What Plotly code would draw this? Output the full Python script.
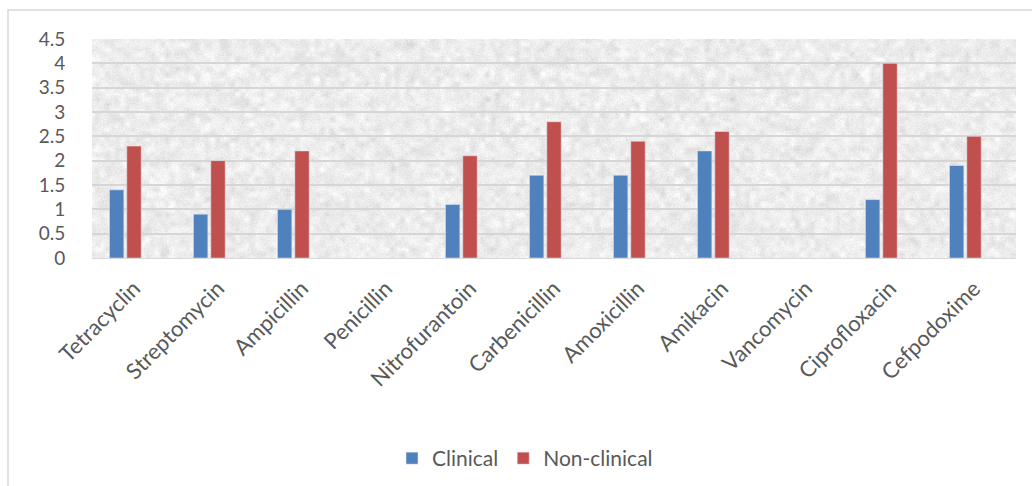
import base64
import struct
import zlib

import numpy as np
import plotly.graph_objects as go

# Chart values
antibiotics = ["Tetracyclin", "Streptomycin", "Ampicillin", "Penicillin", "Nitrofurantoin",
               "Carbenicillin", "Amoxicillin", "Amikacin", "Vancomycin", "Ciprofloxacin",
               "Cefpodoxime"]
clinical = [1.4, 0.9, 1.0, 0, 1.1, 1.7, 1.7, 2.2, 0, 1.2, 1.9]
non_clinical = [2.3, 2.0, 2.2, 0, 2.1, 2.8, 2.4, 2.6, 0, 4.0, 2.5]
y_ticks = [0, 0.5, 1, 1.5, 2, 2.5, 3, 3.5, 4, 4.5]

W, H = 1032, 486
L, R, T, B = 92, 16, 39, 228
PW, PH = W - L - R, H - T - B


def png_data_uri(gray):
    h, w = gray.shape
    raw = b"".join(b"\x00" + gray[r].tobytes() for r in range(h))

    def chunk(tag, data):
        c = struct.pack(">I", len(data)) + tag + data
        return c + struct.pack(">I", zlib.crc32(tag + data) & 0xFFFFFFFF)

    png = (b"\x89PNG\r\n\x1a\n"
           + chunk(b"IHDR", struct.pack(">IIBBBBB", w, h, 8, 0, 0, 0, 0))
           + chunk(b"IDAT", zlib.compress(raw, 9))
           + chunk(b"IEND", b""))
    return "data:image/png;base64," + base64.b64encode(png).decode()


def paper_texture(w, h, seed=7):
    rng = np.random.default_rng(seed)
    # mottled grey paper: coarse blobs plus fine grain
    cell = 5
    coarse = rng.normal(0, 1, (h // cell + 2, w // cell + 2))
    ys = np.arange(h) / cell
    xs = np.arange(w) / cell
    y0 = ys.astype(int); x0 = xs.astype(int)
    fy = (ys - y0)[:, None]; fx = (xs - x0)[None, :]
    a = coarse[y0][:, x0]; b = coarse[y0][:, x0 + 1]
    c = coarse[y0 + 1][:, x0]; d = coarse[y0 + 1][:, x0 + 1]
    blob = (a * (1 - fx) + b * fx) * (1 - fy) + (c * (1 - fx) + d * fx) * fy
    grain = rng.normal(0, 1, (h, w))
    img = 237 + 7 * blob + 4 * grain
    return np.clip(img, 200, 253).astype(np.uint8)


texture = png_data_uri(paper_texture(PW, PH))

font = "Lato, 'Open Sans', sans-serif"
label_color = "#595959"

fig = go.Figure()
fig.add_trace(go.Bar(x=antibiotics, y=clinical, name="Clinical", marker_color="#4f81bd"))
fig.add_trace(go.Bar(x=antibiotics, y=non_clinical, name="Non-clinical", marker_color="#c0504d"))
# empty third slot in each cluster
fig.add_trace(go.Bar(x=antibiotics, y=[None] * len(antibiotics), name="", showlegend=False,
                     hoverinfo="skip"))


def px_to_paper_x(px):
    return (px - L) / PW


def px_to_paper_y(py):
    return (H - B - py) / PH


fig.update_layout(
    width=W, height=H,
    margin=dict(l=L, r=R, t=T, b=B, pad=0),
    paper_bgcolor="white",
    plot_bgcolor="rgba(0,0,0,0)",
    barmode="group",
    bargap=0.38,
    bargroupgap=0.17,
    font=dict(family=font, color=label_color, size=18),
    showlegend=True,
    legend=dict(orientation="h", x=0.5 + 9 / W, xanchor="center", xref="container",
                y=(H - 438) / H, yanchor="top", yref="container",
                font=dict(size=21, color=label_color), itemwidth=30,
                traceorder="normal"),
    images=[dict(source=texture, xref="paper", yref="paper", x=0, y=1,
                 sizex=1, sizey=1, sizing="stretch", layer="below")],
    shapes=[dict(type="rect", xref="paper", yref="paper",
                 x0=px_to_paper_x(8), y0=px_to_paper_y(500),
                 x1=px_to_paper_x(1045), y1=px_to_paper_y(10),
                 line=dict(color="#d9d9d9", width=1.5), fillcolor="rgba(0,0,0,0)",
                 layer="below")],
)

fig.update_xaxes(
    tickangle=-45,
    showgrid=False,
    showline=True, linecolor="#d9d9d9", linewidth=1,
    ticks="outside", ticklen=8, tickcolor="rgba(0,0,0,0)",
    tickfont=dict(size=22, color=label_color, family=font),
)
fig.update_yaxes(
    range=[0, 4.5],
    tickvals=y_ticks,
    ticktext=[f"{v:g}" for v in y_ticks],
    showgrid=True, gridcolor="#d6d6d6", gridwidth=1.5,
    zeroline=False,
    ticks="outside", ticklen=22, tickcolor="rgba(0,0,0,0)",
    tickfont=dict(size=19, color=label_color, family=font),
)

fig.write_html("out.html")
